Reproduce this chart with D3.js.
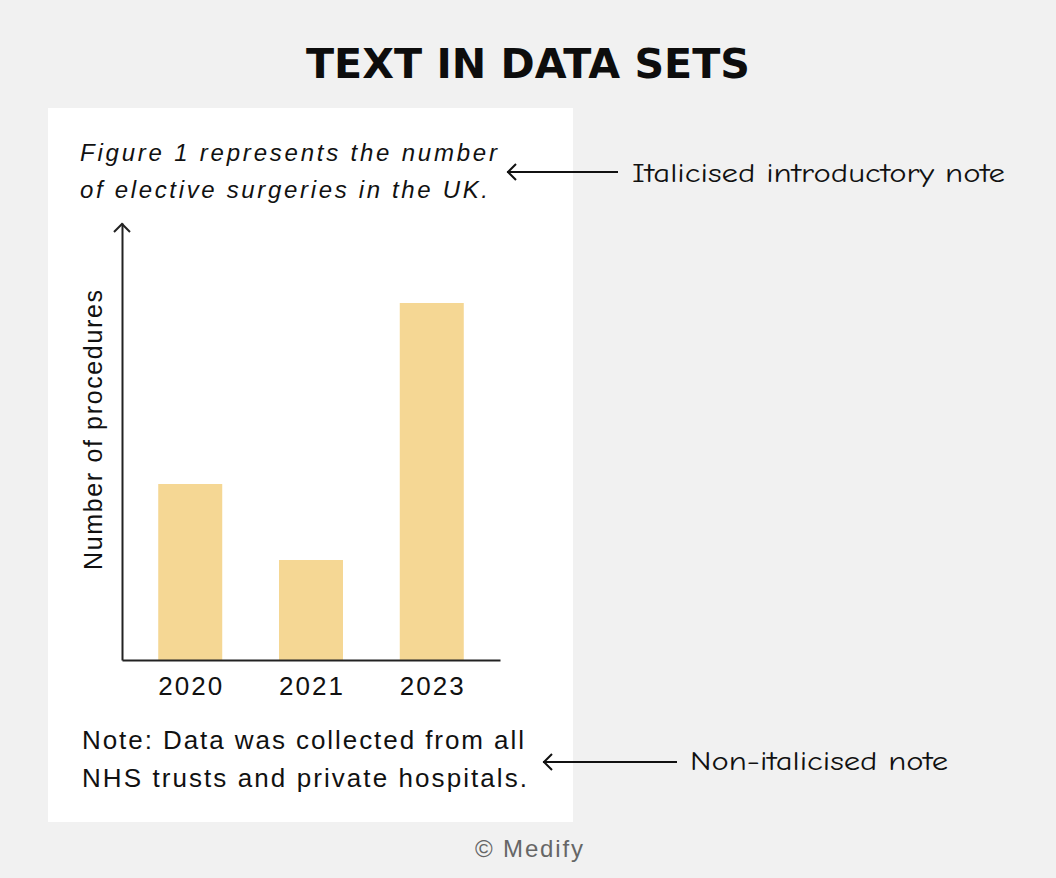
<html lang="en">
<head>
    <meta charset="UTF-8"/>
    <title>Text in data sets</title>
    <style>
        body {
            margin: 0;
            background: #f1f1f1;
        }

        svg {
            display: block;
        }

        .axis text {
            font-family: "Liberation Sans", Arial, sans-serif;
            font-size: 26px;
            letter-spacing: 2px;
            fill: #111;
        }

        .axis path {
            stroke: #222;
            stroke-width: 2;
        }

        .body-text {
            font-family: "Liberation Sans", Arial, sans-serif;
            fill: #111;
        }

        .hand {
            font-family: "Comic Neue", "Lato", "Noto Sans", sans-serif;
            font-size: 27px;
            fill: #111;
        }
    </style>
</head>
<body>
<svg width="1056" height="878"></svg>
<script src="https://d3js.org/d3.v7.min.js"></script>
<script>
    const years = ["2020", "2021", "2023"];
    const procedures = [176, 100, 357];   // relative heights, no ticks on the chart
    const yMax = 437;
    const introLines = ["Figure 1 represents the number", "of elective surgeries in the UK."];
    const noteLines = ["Note: Data was collected from all", "NHS trusts and private hospitals."];
    const annotations = ["Italicised introductory note", "Non-italicised note"];

    const svg = d3.select("svg");

    svg.append("rect")
        .attr("width", 1056).attr("height", 878)
        .attr("fill", "#f1f1f1");

    svg.append("text")
        .attr("x", 528).attr("y", 78)
        .attr("text-anchor", "middle")
        .attr("font-family", "DejaVu Sans, sans-serif")
        .attr("font-weight", 900)
        .attr("font-size", 41)
        .attr("textLength", 444)
        .attr("lengthAdjust", "spacingAndGlyphs")
        .attr("fill", "#0d0d0d")
        .text("TEXT IN DATA SETS");

    // white card
    svg.append("rect")
        .attr("x", 48).attr("y", 108)
        .attr("width", 525).attr("height", 714)
        .attr("fill", "#fff");

    const introWidths = [417, 408];
    svg.append("text")
        .attr("class", "body-text")
        .attr("font-style", "italic")
        .attr("font-size", 24)
        .selectAll("tspan")
        .data(introLines)
        .join("tspan")
        .attr("x", 80)
        .attr("y", (d, i) => 161 + i * 37)
        .attr("textLength", (d, i) => introWidths[i])
        .attr("lengthAdjust", "spacing")
        .text(d => d);

    const x = d3.scaleBand()
        .domain(years)
        .range([122, 500])
        .paddingInner(0.47)
        .paddingOuter(0.3);

    const y = d3.scaleLinear()
        .domain([0, yMax])
        .range([660, 223]);

    svg.append("g")
        .selectAll("rect")
        .data(years)
        .join("rect")
        .attr("x", d => x(d))
        .attr("width", x.bandwidth())
        .attr("y", (d, i) => y(procedures[i]))
        .attr("height", (d, i) => y(0) - y(procedures[i]))
        .attr("fill", "#f5d794");

    const xAxis = svg.append("g")
        .attr("class", "axis")
        .attr("transform", "translate(0,660)")
        .call(d3.axisBottom(x).tickSize(0).tickPadding(17));
    xAxis.selectAll("text").attr("dy", "0.71em").attr("dx", 1);

    svg.append("g")
        .attr("class", "axis")
        .attr("transform", "translate(122,0)")
        .call(d3.axisLeft(y).ticks(0).tickSizeOuter(0));

    // arrow head on y axis
    svg.append("path")
        .attr("d", `M${122 - 8},${y(yMax) + 9} L122,${y(yMax) + 1} L${122 + 8},${y(yMax) + 9}`)
        .attr("fill", "none")
        .attr("stroke", "#222")
        .attr("stroke-width", 2);

    svg.append("text")
        .attr("class", "body-text")
        .attr("font-size", 25)
        .attr("text-anchor", "middle")
        .attr("textLength", 280)
        .attr("lengthAdjust", "spacing")
        .attr("transform", "translate(102,430) rotate(-90)")
        .text("Number of procedures");

    const noteWidths = [442, 445];
    svg.append("text")
        .attr("class", "body-text")
        .attr("font-size", 26)
        .selectAll("tspan")
        .data(noteLines)
        .join("tspan")
        .attr("x", 82)
        .attr("y", (d, i) => 749 + i * 38)
        .attr("textLength", (d, i) => noteWidths[i])
        .attr("lengthAdjust", "spacing")
        .text(d => d);

    svg.append("text")
        .attr("x", 475).attr("y", 857)
        .attr("font-family", "Liberation Sans, Arial, sans-serif")
        .attr("font-size", 24)
        .attr("textLength", 108)
        .attr("lengthAdjust", "spacing")
        .attr("fill", "#666")
        .text("\u00a9 Medify");

    // annotation arrows
    const arrows = [
        {x1: 507, x2: 618, y: 172, tx: 632, ty: 182, w: 373},
        {x1: 543, x2: 677, y: 762, tx: 690, ty: 770, w: 258}
    ];
    arrows.forEach((a, i) => {
        svg.append("path")
            .attr("d", `M${a.x2},${a.y} L${a.x1},${a.y} M${a.x1 + 9},${a.y - 8} L${a.x1 + 1},${a.y} L${a.x1 + 9},${a.y + 8}`)
            .attr("fill", "none")
            .attr("stroke", "#111")
            .attr("stroke-width", 2);
        svg.append("text")
            .attr("class", "hand")
            .attr("x", a.tx).attr("y", a.ty)
            .attr("textLength", a.w)
            .attr("lengthAdjust", "spacingAndGlyphs")
            .text(annotations[i]);
    });
</script>
</body>
</html>
